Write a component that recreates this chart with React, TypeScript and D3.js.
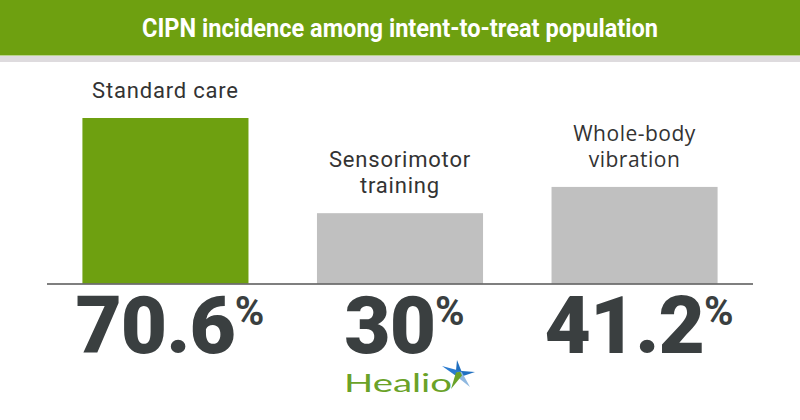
import React from "react";
import * as d3 from "d3";

const title = "CIPN incidence among intent-to-treat population";
const categories = ["Standard care", "Sensorimotor training", "Whole-body vibration"];
const labelLines = [["Standard care"], ["Sensorimotor", "training"], ["Whole-body", "vibration"]];
const values = [70.6, 30, 41.2];
const valueLabels = ["70.6", "30", "41.2"];
const barColors = ["#6ea010", "#c0c0c0", "#c0c0c0"];
const labelFonts = ["Roboto, sans-serif", "Roboto, sans-serif", "'Open Sans', sans-serif"];

const W = 800;
const H = 420;

export default function App() {
  const x = d3
    .scaleBand<string>()
    .domain(categories)
    .range([47, 753])
    .paddingInner(0.292)
    .paddingOuter(0.151);
  const baseY = 283.5;
  const y = d3.scaleLinear().domain([0, 70.6]).range([baseY, 118]);

  const starC = [459, 374];
  const starTips = [
    { tip: [457, 360], color: "#1f6fc0" },
    { tip: [475, 372], color: "#1f6fc0" },
    { tip: [442, 366], color: "#2a7bd0" },
    { tip: [470, 387], color: "#8fb8e0" },
    { tip: [451, 389], color: "#6aa228" },
  ];
  const kite = (tip: number[], w: number) => {
    const dx = tip[0] - starC[0];
    const dy = tip[1] - starC[1];
    const len = Math.hypot(dx, dy);
    const nx = -dy / len;
    const ny = dx / len;
    const p = d3.path();
    p.moveTo(tip[0], tip[1]);
    p.lineTo(starC[0] + nx * w, starC[1] + ny * w);
    p.lineTo(starC[0] - dx * 0.15, starC[1] - dy * 0.15);
    p.lineTo(starC[0] - nx * w, starC[1] - ny * w);
    p.closePath();
    return p.toString();
  };

  return (
    <svg width={W} height={H} style={{ position: "absolute", left: 0, top: 0, background: "#fff" }}>
      <rect x={0} y={0} width={W} height={H} fill="#fff" />
      <rect x={0} y={0} width={W} height={55} fill="#6ea010" />
      <rect x={0} y={55} width={W} height={1} fill="#b9d48a" />
      <rect x={0} y={56} width={W} height={6} fill="#dedbde" />
      <text
        x={W / 2}
        y={37}
        textAnchor="middle"
        fill="#fff"
        fontFamily="Roboto, sans-serif"
        fontWeight={700}
        fontSize={25}
        textLength={516}
        lengthAdjust="spacingAndGlyphs"
      >
        {title}
      </text>

      {categories.map((c, i) => {
        const bx = x(c)!;
        const bw = x.bandwidth();
        const cx = bx + bw / 2;
        const top = y(values[i]);
        const lines = labelLines[i];
        return (
          <g key={c}>
            <rect x={bx} y={top} width={bw} height={baseY - top} fill={barColors[i]} />
            {lines.map((ln, j) => (
              <text
                key={ln}
                x={cx}
                y={top - 20 - (lines.length - 1 - j) * 26}
                textAnchor="middle"
                fill="#333"
                fontFamily={labelFonts[i]}
                fontSize={i === 2 ? 21 : 22}
                letterSpacing={i === 2 ? 0.5 : 0.8}
              >
                {ln}
              </text>
            ))}
            <text
              x={cx + 4}
              y={353}
              textAnchor="middle"
              fill="#3a3f40"
              fontFamily="Roboto, sans-serif"
              fontWeight={900}
              fontSize={80}
              letterSpacing={-1}
            >
              {valueLabels[i]}
              <tspan fontSize={40} dy={-28} fontWeight={700}>%</tspan>
            </text>
          </g>
        );
      })}

      <line x1={x.range()[0]} x2={x.range()[1]} y1={284} y2={284} stroke="#555" strokeWidth={1.5} />

      <text
        x={344}
        y={392}
        fill="#6aa228"
        fontFamily="Lato, 'Open Sans', sans-serif"
        fontSize={25}
        textLength={108}
        lengthAdjust="spacingAndGlyphs"
      >
        Healio
      </text>
      {starTips.map((s, i) => (
        <path key={i} d={kite(s.tip, 3.4)} fill={s.color} />
      ))}
    </svg>
  );
}
